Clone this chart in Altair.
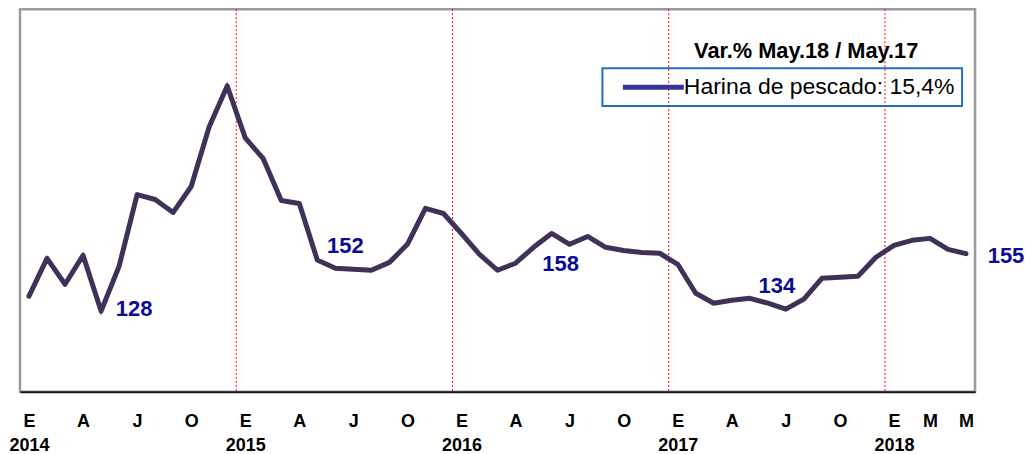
import json
import altair as alt
import pandas as pd

# ---- data ----
values = [135.0, 152.8, 140.6, 154.2, 128.0, 149.1, 182.8, 180.5, 174.4, 186.6, 214.7, 233.9,
          209.5, 199.7, 180.0, 178.6, 152.0, 148.1, 147.7, 147.2, 150.9, 159.4, 176.3, 173.9,
          164.5, 154.7, 147.2, 150.5, 158.0, 164.5, 159.4, 163.1, 158.0, 156.5, 155.6, 155.2,
          150.0, 136.4, 131.7, 133.1, 134.0, 131.7, 128.9, 133.6, 143.4, 143.9, 144.4, 153.3,
          158.9, 161.3, 162.2, 157.0, 155.0]
month_index = list(range(len(values)))
series_name = "Harina de pescado: 15,4%"
legend_title = "Var.% May.18 / May.17"

tick_values = [0, 3, 6, 9, 12, 15, 18, 21, 24, 27, 30, 33, 36, 39, 42, 45, 48, 50, 52]
tick_months = ["E", "A", "J", "O", "E", "A", "J", "O", "E", "A", "J", "O",
               "E", "A", "J", "O", "E", "M", "M"]
tick_years = ["2014", "", "", "", "2015", "", "", "", "2016", "", "", "",
              "2017", "", "", "", "2018", "", ""]

year_starts = [12, 24, 36, 48]
label_points = [4, 16, 28, 40, 52]          # May of each year

# ---- styling / layout ----
label_dx = [33, 28, 27, 27, 40]
label_dy = [5, -7, 24, -5, 9]
W, H = 956, 383

df = pd.DataFrame({"m": month_index, "v": values, "serie": series_name})
df_rules = pd.DataFrame({"m": [s - 0.5 for s in year_starts]})

lab_arr = [""] * len(values)
for t, mo, yr in zip(tick_values, tick_months, tick_years):
    lab_arr[t] = [mo, yr] if yr else mo
label_expr = json.dumps(lab_arr) + "[datum.value]"

xscale = alt.Scale(domain=[-0.5, len(values) - 0.5], nice=False, zero=False)
yscale = alt.Scale(domain=[90, 270], nice=False, zero=False)

x_axis = alt.Axis(values=tick_values, labelExpr=label_expr, title=None, grid=False,
                  ticks=False, tickSize=0, labelPadding=21, labelFont="Liberation Sans",
                  labelFontSize=18, labelFontWeight="bold", labelColor="black",
                  labelLineHeight=24, labelFlush=False, labelOverlap=False,
                  domainColor="#1a1a1a", domainWidth=2)

X = alt.X("m:Q", scale=xscale, axis=x_axis)
Y = alt.Y("v:Q", scale=yscale, axis=None)

rules = alt.Chart(df_rules).mark_rule(color="#FF0000", strokeWidth=1, strokeDash=[2, 2]).encode(x=X)

legend_line = alt.Chart(df).mark_line(strokeWidth=3).encode(
    x=X, y=Y,
    color=alt.Color("serie:N", scale=alt.Scale(range=["#35349A"]),
                    legend=alt.Legend(title=None, orient="none", legendX=583, legendY=59,
                                      strokeColor="#1F70C1", padding=6.5,
                                      symbolType="M0.15,0H6.25", symbolSize=400,
                                      symbolStrokeWidth=5, labelFont="Liberation Sans",
                                      labelFontSize=23, labelColor="black",
                                      labelOffset=50, labelLimit=500)),
)

main_line = alt.Chart(df).mark_line(color="#3F3158", strokeWidth=5, strokeJoin="round",
                                    strokeCap="round").encode(x=X, y=Y)

layers = [rules, legend_line, main_line]
for i, dx, dy in zip(label_points, label_dx, label_dy):
    d = pd.DataFrame({"m": [i], "v": [values[i]], "t": [f"{values[i]:.0f}"]})
    layers.append(alt.Chart(d).mark_text(dx=dx, dy=dy, align="center", baseline="alphabetic",
                                         font="Liberation Sans", fontSize=22, fontWeight="bold",
                                         color="#0A0A96").encode(x=X, y=Y, text="t:N"))

title_df = pd.DataFrame({"t": [legend_title]})
title_txt = alt.Chart(title_df).mark_text(align="center", baseline="alphabetic",
                                          font="Liberation Sans", fontSize=21.8,
                                          fontWeight="bold", color="black").encode(
    x=alt.value(787), y=alt.value(49), text="t:N")
layers.append(title_txt)

chart = alt.layer(*layers).properties(width=W, height=H, padding=0).configure_view(
    stroke="#9a9a9a", strokeWidth=2.5).configure_legend(strokeWidth=2)

chart.save("out.html", embed_options={"renderer": "svg", "actions": False})
